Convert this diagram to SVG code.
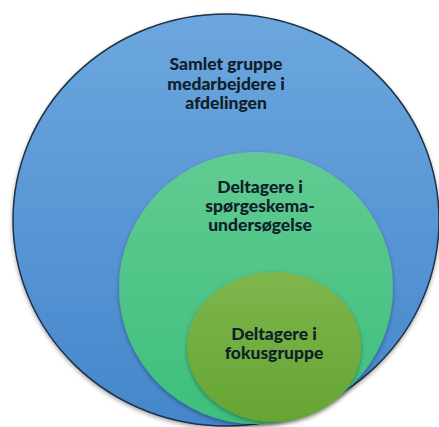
<svg xmlns="http://www.w3.org/2000/svg" width="439" height="427" viewBox="0 0 439 427">
<defs>
<linearGradient id="gBlue" x1="0" y1="0" x2="0" y2="1">
<stop offset="0" stop-color="#6ca7de"/>
<stop offset="1" stop-color="#4586cc"/>
</linearGradient>
<linearGradient id="gGreen" x1="0" y1="0" x2="0" y2="1">
<stop offset="0" stop-color="#62cb92"/>
<stop offset="1" stop-color="#3dbf7c"/>
</linearGradient>
<linearGradient id="gOlive" x1="0" y1="0" x2="0" y2="1">
<stop offset="0" stop-color="#7eb64c"/>
<stop offset="1" stop-color="#65a534"/>
</linearGradient>
<filter id="sh" x="-10%" y="-10%" width="120%" height="125%">
<feDropShadow dx="0" dy="2" stdDeviation="2" flood-color="#000" flood-opacity="0.35"/>
</filter>
</defs>
<style>
.t{font-family:"Lato","Liberation Sans",sans-serif;font-weight:900;font-size:17.5px;fill:#10202a;text-anchor:middle}
</style>
<g id="outer">
<ellipse cx="226" cy="220" rx="213" ry="206" fill="url(#gBlue)" stroke="#1e3148" stroke-width="1.5" filter="url(#sh)"/>
<text class="t" x="226" y="70">Samlet gruppe</text>
<text class="t" x="226" y="90">medarbejdere i</text>
<text class="t" x="226" y="109">afdelingen</text>
</g>
<g id="middle">
<ellipse cx="256" cy="288" rx="137" ry="136" fill="url(#gGreen)" filter="url(#sh)"/>
<text class="t" x="260" y="193">Deltagere i</text>
<text class="t" x="260" y="212">spørgeskema-</text>
<text class="t" x="260" y="231">undersøgelse</text>
</g>
<g id="inner">
<ellipse cx="274" cy="347" rx="87" ry="75" fill="url(#gOlive)" filter="url(#sh)"/>
<text class="t" x="274" y="340">Deltagere i</text>
<text class="t" x="274" y="359">fokusgruppe</text>
</g>
</svg>
